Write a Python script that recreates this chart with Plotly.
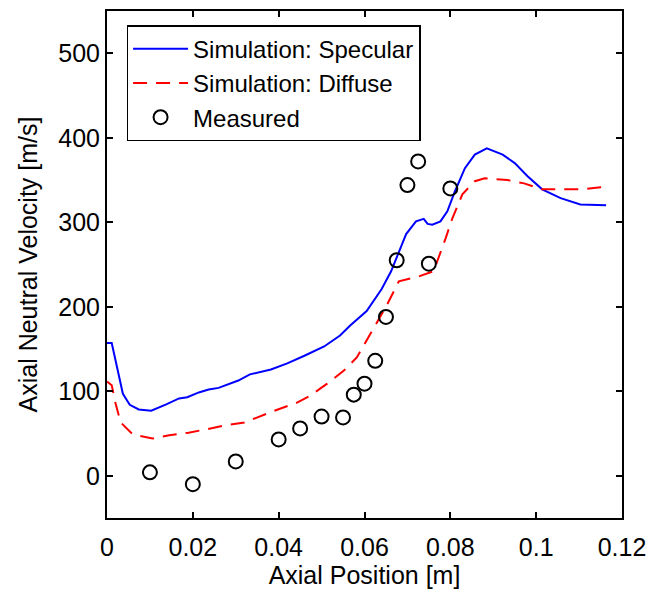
import plotly.graph_objects as go

spec_x = [0, 0.0011, 0.0037, 0.0053, 0.0074, 0.0103, 0.0138, 0.0168, 0.0187, 0.0214, 0.0237, 0.026,
          0.0306, 0.0333, 0.0382, 0.042, 0.046, 0.0506, 0.0543, 0.0566, 0.0605, 0.064, 0.0662, 0.0678,
          0.0697, 0.072, 0.0738, 0.0747, 0.0758, 0.0777, 0.0793, 0.0811, 0.0834, 0.0857, 0.0885, 0.0922,
          0.095, 0.098, 0.1014, 0.1057, 0.1103, 0.1163]
spec_y = [157, 157, 97, 84, 78.5, 77, 84.5, 91.5, 93, 98.6, 102, 104,
          112.7, 120, 125.7, 133, 142, 153, 166, 177.6, 195, 221, 242, 262,
          286, 301, 304, 298, 297, 301, 313, 337, 364, 380, 387.5, 380,
          370, 354.5, 339, 328.5, 321, 320]

diff_x = [0, 0.0011, 0.002, 0.0032, 0.006, 0.0106, 0.0145, 0.019, 0.0232, 0.0276, 0.032, 0.038,
          0.0444, 0.0474, 0.0513, 0.0552, 0.0582, 0.0605, 0.0628, 0.065, 0.068, 0.073, 0.0761, 0.0772,
          0.0789, 0.0805, 0.0828, 0.0857, 0.088, 0.0933, 0.0972, 0.1014, 0.106, 0.1106, 0.115, 0.117]
diff_y = [111.6, 107, 85.6, 63, 49, 44, 48, 51, 55, 59.7, 63, 75,
          86.8, 95, 109, 124.5, 140, 160, 180, 200, 230, 236.5, 242, 256.6,
          281, 305, 333, 348.6, 352, 350, 346, 339, 339, 339, 341.5, 342]

meas_x = [0.01, 0.02, 0.03, 0.04, 0.045, 0.05, 0.055, 0.0575, 0.06, 0.0625, 0.065, 0.0675,
          0.07, 0.0725, 0.075, 0.08]
meas_y = [4, -10, 17, 43, 56, 70, 69, 96, 109, 136, 188, 255, 344, 372, 251, 340]

x_ticks = [0, 0.02, 0.04, 0.06, 0.08, 0.1, 0.12]
x_tick_labels = ["0", "0.02", "0.04", "0.06", "0.08", "0.1", "0.12"]
y_ticks = [0, 100, 200, 300, 400, 500]

FONT = "Liberation Sans, Arial, sans-serif"
FS = 25

fig = go.Figure()
fig.add_trace(go.Scatter(x=spec_x, y=spec_y, mode="lines", name="Simulation: Specular",
                         line=dict(color="#0000ff", width=2)))
fig.add_trace(go.Scatter(x=diff_x, y=diff_y, mode="lines", name="Simulation: Diffuse",
                         line=dict(color="#ff0000", width=2, dash="14px,9px")))
fig.add_trace(go.Scatter(x=meas_x, y=meas_y, mode="markers", name="Measured",
                         marker=dict(symbol="circle-open", size=14, color="black",
                                     line=dict(width=2, color="black"))))

axis_common = dict(showline=True, linecolor="black", linewidth=2, mirror="ticks",
                   ticks="inside", ticklen=6, tickwidth=2, tickcolor="black",
                   showgrid=False, zeroline=False,
                   tickfont=dict(family=FONT, size=FS, color="black"))

fig.update_xaxes(range=[0, 0.12], tickvals=x_ticks, ticktext=x_tick_labels,
                 ticklabelstandoff=6,
                 title=dict(text="Axial Position [m]", font=dict(family=FONT, size=FS, color="black"),
                            standoff=2),
                 **axis_common)
fig.update_yaxes(range=[-50, 550], tickvals=y_ticks,
                 title=dict(text="Axial Neutral Velocity [m/s]", font=dict(family=FONT, size=FS, color="black"),
                            standoff=14),
                 **axis_common)

fig.update_layout(
    width=655, height=591,
    margin=dict(l=107, r=26, t=9, b=73),
    paper_bgcolor="white", plot_bgcolor="white",
    font=dict(family=FONT, size=FS, color="black"),
    legend=dict(x=0.038, y=0.972, xanchor="left", yanchor="top",
                bordercolor="black", borderwidth=1.5, bgcolor="white",
                font=dict(family=FONT, size=24, color="black"),
                tracegroupgap=0, itemwidth=55),
)

fig.write_html("out.html")
